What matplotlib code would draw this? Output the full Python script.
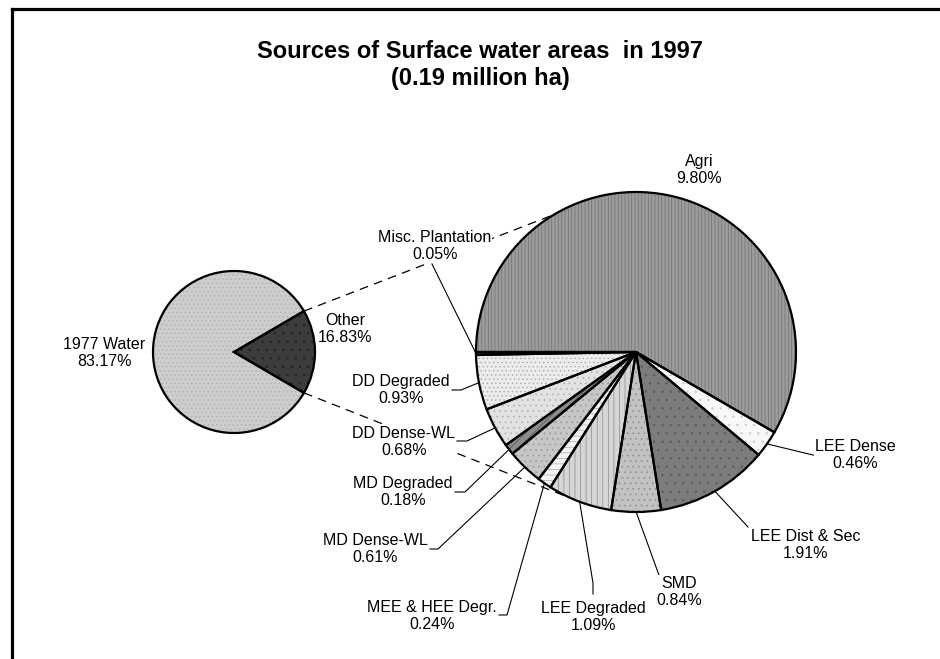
import matplotlib
matplotlib.use("Agg")
import matplotlib.pyplot as plt
import numpy as np

# ---------------- data ----------------
title_lines = ["Sources of Surface water areas  in 1997", "(0.19 million ha)"]

main_labels = ["Other", "1977 Water"]
main_values = [16.83, 83.17]

sub_labels = ["Misc. Plantation", "DD Degraded", "DD Dense-WL", "MD Degraded",
              "MD Dense-WL", "MEE & HEE Degr.", "LEE Degraded", "SMD",
              "LEE Dist & Sec", "LEE Dense", "Agri"]
sub_values = [0.05, 0.93, 0.68, 0.18, 0.61, 0.24, 1.09, 0.84, 1.91, 0.46, 9.80]

# ---------------- styles ----------------
plt.rcParams['font.family'] = ['Liberation Sans', 'DejaVu Sans']
plt.rcParams['hatch.linewidth'] = 0.5

W, H = 940, 659
def P(x, y):
    return (x, H - y)

main_face = ['#3c3c3c', '#cdcdcd']
main_hatch = ['..', '....']
main_hcol = ['#222222', '#b0b0b0']

sub_face = ['#3a0a3a', '#ececec', '#e2e2e2', '#8c8c8c', '#c6c6c6', '#f4f4f4',
            '#d6d6d6', '#c2c2c2', '#7c7c7c', '#f8f8f8', '#9c9c9c']
sub_hatch = [None, '....', '...', '////', '...', '---', '|||', '...', '..', '..', '|||||']
sub_hcol = ['#3a0a3a', '#a8a8a8', '#b0b0b0', '#555555', '#999999', '#aaaaaa',
            '#8a8a8a', '#909090', '#5c5c5c', '#cccccc', '#727272']

main_center, main_r = P(234, 352), 81
sub_center, sub_r = P(636, 352), 160

main_label_pos = [P(345, 329), P(104, 353)]
sub_label_pos = [P(435, 246), P(401, 390), P(404, 442), P(403, 492), P(375, 549),
                 P(432, 616), P(593, 617), P(679, 592), P(806, 545), P(855, 455),
                 P(699, 170)]
leader_start = [P(432, 264), P(452, 390), P(457, 441), P(455, 492), P(430, 549),
                P(499, 615), P(593, 594), P(660, 578), P(748, 527), P(822, 455),
                None]
leader_stub = [(0, 0), (9, 0), (10, 0), (10, 0), (8, 0), (8, 0), (0, 11),
               (0, 0), (0, 0), (-9, 0), (0, 0)]
conn_angles = [120.8, 249.7]

fs = 11.5
title_fs = 17
title_y = [52, 78]

fig = plt.figure(figsize=(9.4, 6.59), dpi=100)
ax = fig.add_axes([0, 0, 1, 1])

# ---------------- left pie ----------------
tot_m = sum(main_values)
start_m = -main_values[0] / tot_m * 360 / 2
wl, _ = ax.pie(main_values, center=main_center, radius=main_r, startangle=start_m,
               counterclock=True, colors=main_face,
               wedgeprops=dict(linewidth=0))
for w, h, hc in zip(wl, main_hatch, main_hcol):
    w.set_hatch(h)
    w.set_edgecolor(hc)
ax.pie(main_values, center=main_center, radius=main_r, startangle=start_m,
       counterclock=True, colors=['none'] * len(main_values),
       wedgeprops=dict(edgecolor='black', linewidth=1.6, fill=False))

# ---------------- right pie ----------------
tot_s = sum(sub_values)
ws, _ = ax.pie(sub_values, center=sub_center, radius=sub_r, startangle=180,
               counterclock=True, colors=sub_face, wedgeprops=dict(linewidth=0))
for w, h, hc in zip(ws, sub_hatch, sub_hcol):
    if h:
        w.set_hatch(h)
    w.set_edgecolor(hc)
ax.pie(sub_values, center=sub_center, radius=sub_r, startangle=180,
       counterclock=True, colors=['none'] * len(sub_values),
       wedgeprops=dict(edgecolor='black', linewidth=1.6, fill=False))

# ---------------- connector lines ----------------
half = main_values[0] / tot_m * 180
for a_l, a_r in zip([half, -half], conn_angles):
    x0 = main_center[0] + main_r * np.cos(np.radians(a_l))
    y0 = main_center[1] + main_r * np.sin(np.radians(a_l))
    x1 = sub_center[0] + sub_r * np.cos(np.radians(a_r))
    y1 = sub_center[1] + sub_r * np.sin(np.radians(a_r))
    ax.plot([x0, x1], [y0, y1], color='black', lw=0.9, ls=(0, (7, 5)), zorder=0.5)

# ---------------- labels ----------------
for lab, v, pos in zip(main_labels, main_values, main_label_pos):
    ax.text(pos[0], pos[1], f"{lab}\n{v:.2f}%", ha='center', va='center',
            fontsize=fs, linespacing=1.2, zorder=5,
            bbox=dict(facecolor='white', edgecolor='none', pad=0.5))

cum = 0
for lab, v, pos, st, stub in zip(sub_labels, sub_values, sub_label_pos,
                                 leader_start, leader_stub):
    mid = 180 + (cum + v / 2) / tot_s * 360
    cum += v
    ax.text(pos[0], pos[1], f"{lab}\n{v:.2f}%", ha='center', va='center',
            fontsize=fs, linespacing=1.2, zorder=5,
            bbox=dict(facecolor='white', edgecolor='none', pad=0.5))
    if st is not None:
        ex = sub_center[0] + sub_r * np.cos(np.radians(mid))
        ey = sub_center[1] + sub_r * np.sin(np.radians(mid))
        xs = [st[0], st[0] + stub[0], ex]
        ys = [st[1], st[1] + stub[1], ey]
        ax.plot(xs, ys, color='black', lw=0.8, zorder=4)

# ---------------- title ----------------
for line, ty in zip(title_lines, title_y):
    ax.text(480, H - ty, line, ha='center', va='center', fontsize=title_fs,
            fontweight='bold')

# ---------------- frame ----------------
ax.plot([12, W + 5], [H - 9, H - 9], color='black', lw=2.3, solid_capstyle='projecting')
ax.plot([12, 12], [H - 9, -5], color='black', lw=2.3, solid_capstyle='projecting')

ax.set_xlim(0, W)
ax.set_ylim(0, H)
ax.set_aspect('equal')
ax.axis('off')

fig.savefig("out.png", dpi=100)
